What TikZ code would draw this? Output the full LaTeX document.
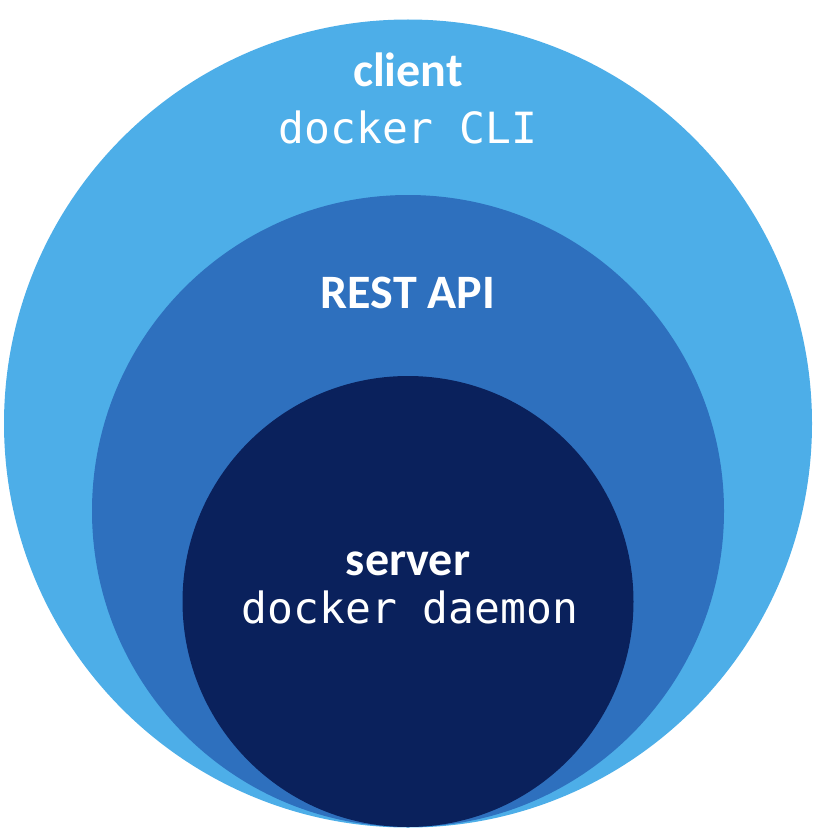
\documentclass[tikz,border=0pt]{standalone}
\usepackage{fontspec}
\setmainfont{Carlito}
\setmonofont{DejaVu Sans Mono}
\usepackage{tikz}
\usetikzlibrary{positioning}

\definecolor{clientblue}{RGB}{77,174,232}
\definecolor{apiblue}{RGB}{46,112,190}
\definecolor{serverblue}{RGB}{10,33,92}

\begin{document}
\begin{tikzpicture}[
x=1pt, y=-1pt,
layernode/.style={circle, inner sep=0pt, draw=none},
titlenode/.style={anchor=base, text=white, inner sep=0pt, font=\fontsize{48}{52}\selectfont\bfseries},
cmdnode/.style={anchor=base, text=white, inner sep=0pt, font=\fontsize{43}{48}\selectfont\ttfamily}
]
\useasboundingbox (0,0) rectangle (824,840);
\node[layernode, fill=clientblue, minimum size=808pt] (client) at (408,423.5) {};
\node[layernode, fill=apiblue, minimum size=632pt] (api) at (408,511) {};
\node[layernode, fill=serverblue, minimum size=451pt] (server) at (408,601.5) {};

\node[titlenode] (clientlbl) at (408,87) {client};
\node[cmdnode] (cli) at (408,143) {docker CLI};
\node[titlenode] (apilbl) at (408,308) {REST API};
\node[titlenode] (serverlbl) at (408,575) {server};
\node[cmdnode] (daemon) at (410,623) {docker daemon};
\end{tikzpicture}
\end{document}
